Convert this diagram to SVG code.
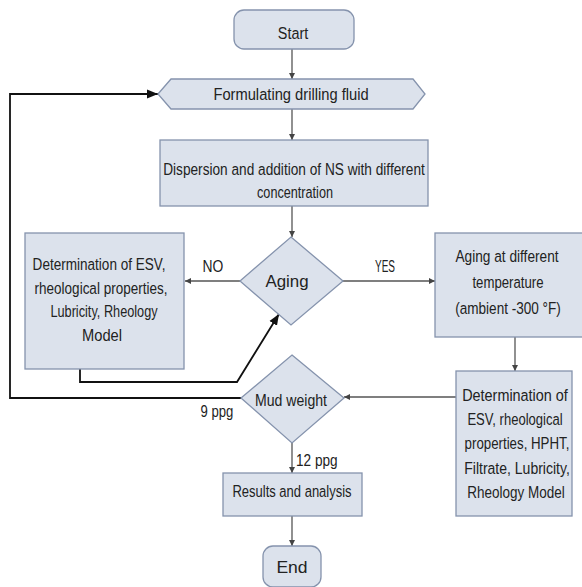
<svg xmlns="http://www.w3.org/2000/svg" width="582" height="587" viewBox="0 0 582 587">
<style>
.n{fill:#dce2ec;stroke:#8593ad;stroke-width:1.3}
.t{font-family:"Liberation Sans",Arial,sans-serif;font-size:17px;fill:#222;text-anchor:middle}
.s{text-anchor:start}
.c{fill:none;stroke:#555;stroke-width:1.3}
.k{fill:none;stroke:#111;stroke-width:1.8}
</style>
<defs>
<marker id="a" viewBox="0 0 10 10" refX="10" refY="5" markerWidth="6" markerHeight="6" orient="auto" markerUnits="userSpaceOnUse"><path d="M0,0L10,5L0,10z" fill="#444"/></marker>
<marker id="b" viewBox="0 0 10 10" refX="10" refY="5" markerWidth="11" markerHeight="11" orient="auto" markerUnits="userSpaceOnUse"><path d="M0,1L10,5L0,9z" fill="#111"/></marker>
</defs>
<rect width="582" height="587" fill="#fff"/>
<g id="connectors">
<path class="c" d="M292,49V79" marker-end="url(#a)"/>
<path class="c" d="M292,109V140" marker-end="url(#a)"/>
<path class="c" d="M292,206V237" marker-end="url(#a)"/>
<path class="c" d="M240,281H185" marker-end="url(#a)"/>
<path class="c" d="M343,281H435" marker-end="url(#a)"/>
<path class="c" d="M515,337V371" marker-end="url(#a)"/>
<path class="c" d="M456,397H344" marker-end="url(#a)"/>
<path class="c" d="M292,443V473" marker-end="url(#a)"/>
<path class="c" d="M292,516V546" marker-end="url(#a)"/>
<path class="k" d="M80,369V382H237L279,314" marker-end="url(#b)"/>
<path class="k" d="M241,398H10V94H158" marker-end="url(#b)"/>
<text class="t" transform="translate(213,272) scale(0.8,1)" textLength="26" lengthAdjust="spacingAndGlyphs">NO</text>
<text class="t" transform="translate(385,272) scale(0.8,1)" textLength="25" lengthAdjust="spacingAndGlyphs">YES</text>
<text class="t" transform="translate(217,417) scale(0.8,1)" textLength="41" lengthAdjust="spacingAndGlyphs">9 ppg</text>
<text class="t s" transform="translate(296,466) scale(0.8,1)" textLength="52" lengthAdjust="spacingAndGlyphs">12 ppg</text>
</g>
<g id="start">
<rect class="n" x="234" y="10" width="120" height="39" rx="10"/>
<text class="t" transform="translate(293,39) scale(0.8,1)" textLength="38" lengthAdjust="spacingAndGlyphs">Start</text>
</g>
<g id="formulating">
<polygon class="n" points="158,94 171,79 413,79 425,94 413,109 171,109"/>
<text class="t" transform="translate(291,100) scale(0.8,1)" textLength="194" lengthAdjust="spacingAndGlyphs">Formulating drilling fluid</text>
</g>
<g id="dispersion">
<rect class="n" x="160" y="140" width="268" height="66"/>
<text class="t" transform="translate(294,175) scale(0.8,1)" textLength="327" lengthAdjust="spacingAndGlyphs">Dispersion and addition of NS with different</text>
<text class="t" transform="translate(295,198) scale(0.8,1)" textLength="95" lengthAdjust="spacingAndGlyphs">concentration</text>
</g>
<g id="aging">
<polygon class="n" points="291,237 343,281 291,325 240,281"/>
<text class="t" transform="translate(287,287) scale(0.8,1)" textLength="54" lengthAdjust="spacingAndGlyphs">Aging</text>
</g>
<g id="det-left">
<rect class="n" x="25" y="233" width="159" height="136"/>
<text class="t" transform="translate(99,270) scale(0.8,1)" textLength="166" lengthAdjust="spacingAndGlyphs">Determination of ESV,</text>
<text class="t" transform="translate(101,294) scale(0.8,1)" textLength="166" lengthAdjust="spacingAndGlyphs">rheological properties,</text>
<text class="t" transform="translate(104,317) scale(0.8,1)" textLength="134" lengthAdjust="spacingAndGlyphs">Lubricity, Rheology</text>
<text class="t" transform="translate(102,341) scale(0.8,1)" textLength="50" lengthAdjust="spacingAndGlyphs">Model</text>
</g>
<g id="aging-temp">
<rect class="n" x="435" y="233" width="160" height="104"/>
<text class="t" transform="translate(507,262) scale(0.8,1)" textLength="129" lengthAdjust="spacingAndGlyphs">Aging at different</text>
<text class="t" transform="translate(508,288) scale(0.8,1)" textLength="89" lengthAdjust="spacingAndGlyphs">temperature</text>
<text class="t" transform="translate(508,314) scale(0.8,1)" textLength="132" lengthAdjust="spacingAndGlyphs">(ambient -300 °F)</text>
</g>
<g id="det-right">
<rect class="n" x="456" y="371" width="116" height="145"/>
<text class="t" transform="translate(515,401) scale(0.8,1)" textLength="132" lengthAdjust="spacingAndGlyphs">Determination of</text>
<text class="t" transform="translate(515,425) scale(0.8,1)" textLength="119" lengthAdjust="spacingAndGlyphs">ESV, rheological</text>
<text class="t" transform="translate(517,449) scale(0.8,1)" textLength="131" lengthAdjust="spacingAndGlyphs">properties, HPHT,</text>
<text class="t" transform="translate(517,474) scale(0.8,1)" textLength="132" lengthAdjust="spacingAndGlyphs">Filtrate, Lubricity,</text>
<text class="t" transform="translate(516,498) scale(0.8,1)" textLength="122" lengthAdjust="spacingAndGlyphs">Rheology Model</text>
</g>
<g id="mud">
<polygon class="n" points="292,355 344,398 292,443 241,398"/>
<text class="t" transform="translate(291,406) scale(0.8,1)" textLength="90" lengthAdjust="spacingAndGlyphs">Mud weight</text>
</g>
<g id="results">
<rect class="n" x="223" y="473" width="139" height="43"/>
<text class="t" transform="translate(292,497) scale(0.8,1)" textLength="149" lengthAdjust="spacingAndGlyphs">Results and analysis</text>
</g>
<g id="end">
<rect class="n" x="263" y="546" width="58" height="41" rx="10"/>
<text class="t" transform="translate(292,573) scale(0.8,1)" textLength="39" lengthAdjust="spacingAndGlyphs">End</text>
</g>
</svg>
